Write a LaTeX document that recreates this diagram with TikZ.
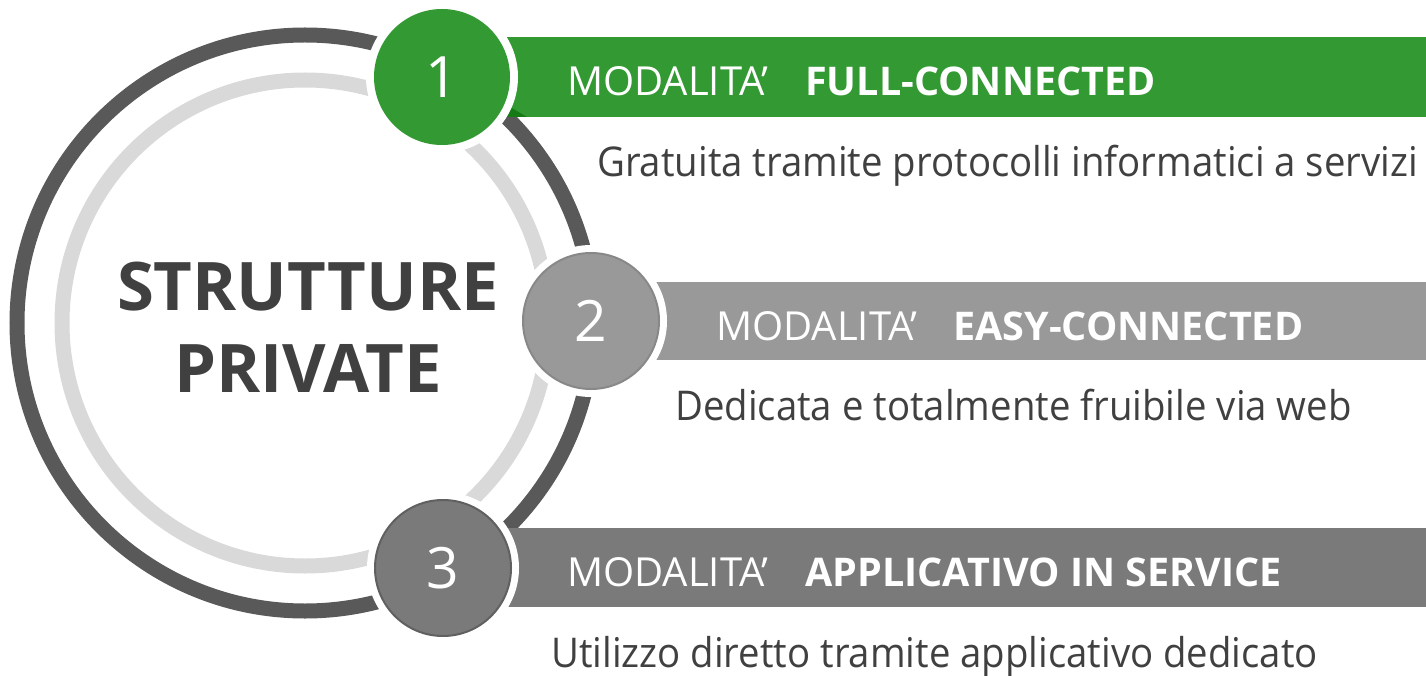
\documentclass[tikz,border=0pt]{standalone}
\usepackage{fontspec}
\setmainfont{Open Sans}
\newfontfamily\descfont{Open Sans}[FakeStretch=0.935]
\usetikzlibrary{positioning}
\definecolor{ringdark}{HTML}{595959}
\definecolor{ringlight}{HTML}{D9D9D9}
\definecolor{modegreen}{HTML}{339933}
\definecolor{foldgreen}{HTML}{167A16}
\definecolor{modegray}{HTML}{999999}
\definecolor{modegrayline}{HTML}{888888}
\definecolor{modedark}{HTML}{7A7A7A}
\definecolor{modedarkline}{HTML}{606060}
\definecolor{textgray}{HTML}{404040}
\tikzset{
  halo/.style={circle, fill=white, minimum size=152pt, inner sep=0pt},
  numdisc/.style={circle, minimum size=136pt, inner sep=0pt, line width=2pt,
    text=white, font=\fontsize{57}{57}\selectfont},
  modetext/.style={anchor=base west, inner sep=0pt, text=white,
    font=\fontsize{40}{48}\selectfont},
  modebold/.style={modetext, font=\fontsize{39.5}{48}\selectfont\bfseries},
  desctext/.style={anchor=base west, inner sep=0pt, text=textgray,
    font=\descfont\fontsize{41}{49}\selectfont},
}

\begin{document}
\begin{tikzpicture}[x=1pt,y=-1pt]
    \useasboundingbox (0,0) rectangle (1426,676);
    % the two rings
    \draw [ringdark, line width=15pt] (305,323) circle[radius=288pt];
    \draw [ringlight, line width=15pt] (305,323) circle[radius=243pt];
    % bars
    \fill [modegreen] (470,37) rectangle (1426,117);
    \fill [foldgreen] (505,104)--(527,117)--(505,117)--cycle;
    \fill [modegray] (620,282) rectangle (1426,360);
    \fill [modedark] (470,528) rectangle (1426,607);
    % numbered circles
    \node [halo] (h1) at (442,77) {};
    \node [halo] (h2) at (591,321) {};
    \node [halo] (h3) at (443,568) {};
    \node [numdisc, fill=modegreen] (n1) at (h1) {1};
    \node [numdisc, fill=modegray, draw=modegrayline] (n2) at (h2) {2};
    \node [numdisc, fill=modedark, draw=modedarkline] (n3) at (h3) {3};
    % centre title
    \node [text=textgray, align=center, font=\fontsize{67}{82}\selectfont\bfseries] (title) at (308,327) {STRUTTURE\\PRIVATE};
    % modes
    \node [modetext] (m1) at (567,96) {MODALITA’};
    \node [modebold] (b1) at (805,96) {FULL-CONNECTED};
    \node [desctext] (d1) at (597,177) {Gratuita tramite protocolli informatici a servizi};
    \node [modetext] (m2) at (716,340) {MODALITA’};
    \node [modebold] (b2) at (953,340) {EASY-CONNECTED};
    \node [desctext] (d2) at (675,420) {Dedicata e totalmente fruibile via web};
    \node [modetext] (m3) at (567,586) {MODALITA’};
    \node [modebold] (b3) at (805,586) {APPLICATIVO IN SERVICE};
    \node [desctext] (d3) at (551,667) {Utilizzo diretto tramite applicativo dedicato};
\end{tikzpicture}
\end{document}
